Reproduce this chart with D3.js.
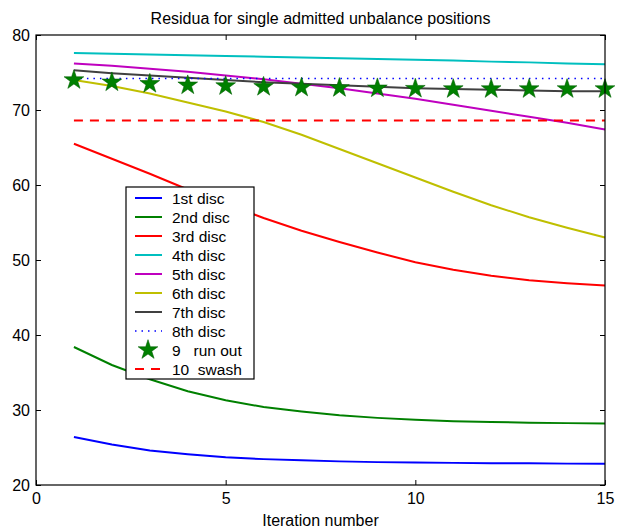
<!DOCTYPE html>
<html><head><meta charset="utf-8">
<script src="https://cdn.jsdelivr.net/npm/d3@7"></script>
<style>body{margin:0;background:#fff}svg{display:block}text{font-family:"Liberation Sans",Arial,sans-serif}</style>
</head><body>
<script>
const iterations = [1,2,3,4,5,6,7,8,9,10,11,12,13,14,15];
const disc1 = [26.4,25.4,24.6,24.1,23.7,23.45,23.3,23.15,23.05,23.0,22.95,22.9,22.9,22.85,22.85];
const disc2 = [38.4,36.0,34.1,32.5,31.3,30.4,29.8,29.3,28.95,28.7,28.5,28.4,28.3,28.25,28.2];
const disc3 = [65.5,63.5,61.5,59.4,57.5,55.6,53.9,52.4,51.0,49.7,48.7,47.9,47.3,46.9,46.6];
const disc4 = [77.6,77.5,77.4,77.3,77.2,77.1,77.0,76.9,76.8,76.7,76.6,76.45,76.35,76.2,76.1];
const disc5 = [76.2,75.9,75.5,75.1,74.6,74.1,73.5,72.9,72.2,71.5,70.7,69.9,69.1,68.3,67.4];
const disc6 = [74.0,73.2,72.2,71.0,69.8,68.4,66.7,64.8,62.9,61.0,59.1,57.3,55.7,54.3,53.0];
const disc7 = [75.3,74.9,74.6,74.3,74.0,73.7,73.5,73.3,73.1,72.9,72.8,72.7,72.6,72.5,72.5];
const disc8 = [74.2,74.2,74.2,74.2,74.2,74.2,74.2,74.2,74.2,74.2,74.2,74.2,74.2,74.2,74.2];
const runout = [74.0,73.7,73.5,73.3,73.2,73.1,73.0,72.95,72.9,72.85,72.8,72.8,72.8,72.8,72.8];
const swash = [68.6,68.6,68.6,68.6,68.6,68.6,68.6,68.6,68.6,68.6,68.6,68.6,68.6,68.6,68.6];
const labels = ["1st disc","2nd disc","3rd disc","4th disc","5th disc","6th disc","7th disc","8th disc","9   run out","10  swash"];
const xTicks = [0,5,10,15];
const yTicks = [20,30,40,50,60,70,80];

const styles = [
  {c:"#0000ff"},{c:"#008000"},{c:"#ff0000"},{c:"#00bfbf"},{c:"#bf00bf"},
  {c:"#bfbf00"},{c:"#404040"},{c:"#0000ff",dash:"1.5,5",w:1.5},{c:"#008000",star:true},{c:"#ff0000",dash:"9,7"}
];
const seriesData = [disc1,disc2,disc3,disc4,disc5,disc6,disc7,disc8,runout,swash];

const W=618,H=531, L=36,R=605,T=35,B=485;
const svg=d3.select("body").append("svg").attr("width",W).attr("height",H);
const x=d3.scaleLinear().domain([0,15]).range([L,R]);
const y=d3.scaleLinear().domain([20,80]).range([B,T]);

const ax=(g)=>g.selectAll(".domain").remove();
svg.append("g").attr("transform",`translate(0,${B})`).call(d3.axisBottom(x).tickValues(xTicks).tickSize(-5).tickPadding(8))
  .call(g=>{g.select(".domain").remove();g.selectAll("text").attr("font-size",16).attr("fill","#000");});
svg.append("g").attr("transform",`translate(0,${T})`).call(d3.axisTop(x).tickValues(xTicks).tickSize(-5).tickFormat(""))
  .call(ax);
svg.append("g").attr("transform",`translate(${L},0)`).call(d3.axisLeft(y).tickValues(yTicks).tickSize(-5).tickPadding(6))
  .call(g=>{g.select(".domain").remove();g.selectAll("text").attr("font-size",16).attr("fill","#000");});
svg.append("g").attr("transform",`translate(${R},0)`).call(d3.axisRight(y).tickValues(yTicks).tickSize(-5).tickFormat(""))
  .call(ax);
svg.selectAll(".tick line").attr("stroke","#000");

const line=d3.line().x((d,i)=>x(iterations[i])).y(d=>y(d));
const starPath=d3.symbol().type(d3.symbolStar).size(120);

seriesData.forEach((s,k)=>{
  const st=styles[k];
  if(st.star){
    svg.append("g").selectAll("path").data(s).join("path")
      .attr("d",starPath).attr("transform",(d,i)=>`translate(${x(iterations[i])},${y(d)})`)
      .attr("fill",st.c).attr("stroke","#006000").attr("stroke-width",0.6);
  } else {
    svg.append("path").datum(s).attr("d",line).attr("fill","none").attr("stroke",st.c)
      .attr("stroke-width",st.w||2).attr("stroke-dasharray",st.dash||null);
  }
});

svg.append("rect").attr("x",L).attr("y",T).attr("width",R-L).attr("height",B-T)
  .attr("fill","none").attr("stroke","#000").attr("stroke-width",1.2);

svg.append("text").attr("x",(L+R)/2).attr("y",24).attr("text-anchor","middle").attr("font-size",16).text("Residua for single admitted unbalance positions");
svg.append("text").attr("x",(L+R)/2).attr("y",526).attr("text-anchor","middle").attr("font-size",16).text("Iteration number");

const lg=svg.append("g");
const lx=126, ly=187, lw=128, lh=192, step=19;
lg.append("rect").attr("x",lx).attr("y",ly).attr("width",lw).attr("height",lh).attr("fill","#fff").attr("stroke","#000").attr("stroke-width",1.2);
labels.forEach((lab,k)=>{
  const st=styles[k], cy=ly+11+k*step;
  if(st.star){
    lg.append("path").attr("d",starPath).attr("transform",`translate(148,${cy})`).attr("fill",st.c).attr("stroke","#006000").attr("stroke-width",0.6);
  } else {
    lg.append("line").attr("x1",135).attr("x2",162).attr("y1",cy).attr("y2",cy).attr("stroke",st.c)
      .attr("stroke-width",st.w||2).attr("stroke-dasharray",st.dash? (k===7?"1.5,5":"9,7"):null);
  }
  lg.append("text").attr("x",172).attr("y",cy+5.5).attr("font-size",15.5).style("white-space","pre").text(lab);
});
</script>
</body></html>
